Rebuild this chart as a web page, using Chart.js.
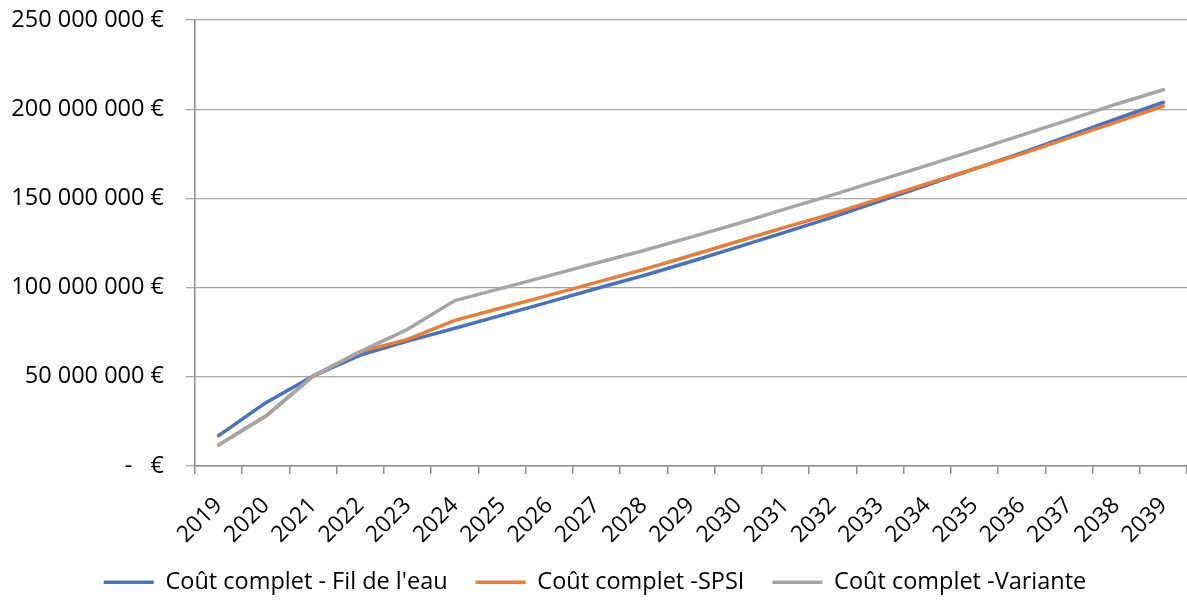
<!DOCTYPE html>
<html>
<head>
<meta charset="utf-8">
<script src="https://cdn.jsdelivr.net/npm/chart.js@4.4.0/dist/chart.umd.min.js"></script>
<style>
    html, body { margin: 0; padding: 0; background: #ffffff; }
    #wrap { width: 1187px; height: 602px; position: relative; }
</style>
</head>
<body>
<div id="wrap"><canvas id="cost-chart"></canvas></div>
<script>
// Coût complet par scénario, en euros
const years = ['2019', '2020', '2021', '2022', '2023', '2024', '2025', '2026', '2027', '2028', '2029',
    '2030', '2031', '2032', '2033', '2034', '2035', '2036', '2037', '2038', '2039'];

const filDeLeau = [17000000, 35500000, 50400000, 62200000, 70000000, 77200000, 84600000, 92000000, 99500000, 106800000, 114600000,
    122800000, 131100000, 139500000, 148500000, 157500000, 166500000, 175500000, 185000000, 194500000, 203900000];

const spsi = [11800000, 28000000, 50400000, 64100000, 71000000, 81600000, 88700000, 95800000, 102900000, 110200000, 118000000,
    126000000, 133900000, 141500000, 149900000, 158300000, 166600000, 175000000, 183900000, 192800000, 201800000];

const variante = [11800000, 28000000, 50400000, 64100000, 76600000, 92700000, 99700000, 106700000, 113800000, 120800000, 128300000,
    135900000, 144100000, 152000000, 160200000, 168500000, 176900000, 185500000, 194000000, 202800000, 210900000];

const seriesNames = ['Coût complet - Fil de l\'eau', 'Coût complet -SPSI', 'Coût complet -Variante'];
const seriesColors = ['#4472c4', '#ed7d31', '#a5a5a5'];

const yTickLabels = ['-   €', '50 000 000 €', '100 000 000 €', '150 000 000 €', '200 000 000 €', '250 000 000 €'];

const FONT = "'Open Sans', 'DejaVu Sans', sans-serif";
const AXIS_GREY = '#8c8c8c';
const GRID_GREY = '#a6a6a6';

function makeDataset(i, data) {
    return {
        label: seriesNames[i],
        data: data,
        borderColor: seriesColors[i],
        backgroundColor: seriesColors[i],
        borderWidth: 3.5,
        borderJoinStyle: 'round',
        borderCapStyle: 'round',
        pointRadius: 0,
        pointHoverRadius: 0,
        tension: 0,
        fill: false,
        order: 3 - i // grey on top, like the original
    };
}

const ctx = document.getElementById('cost-chart').getContext('2d');
new Chart(ctx, {
    type: 'line',
    data: {
        labels: years,
        datasets: [
            makeDataset(0, filDeLeau),
            makeDataset(1, spsi),
            makeDataset(2, variante)
        ]
    },
    options: {
        responsive: true,
        maintainAspectRatio: false,
        animation: false,
        layout: { padding: { top: 20, right: -3, bottom: -2, left: 0 } },
        plugins: {
            legend: {
                position: 'bottom',
                labels: {
                    color: '#000000',
                    font: { family: FONT, size: 23.5 },
                    usePointStyle: true,
                    pointStyle: 'line',
                    pointStyleWidth: 50,
                    padding: 28,
                    sort: function(a, b) { return a.datasetIndex - b.datasetIndex; }
                }
            },
            tooltip: { enabled: false }
        },
        scales: {
            x: {
                offset: true,
                afterFit: function(scale) {
                    scale.height = 76.5;
                    scale.paddingLeft = 0;
                    scale.paddingRight = 0;
                },
                grid: {
                    offset: true,
                    drawOnChartArea: false,
                    drawTicks: true,
                    tickLength: 8,
                    color: AXIS_GREY,
                    lineWidth: 1.5
                },
                border: { display: true, color: AXIS_GREY, width: 1.5 },
                ticks: {
                    color: '#000000',
                    font: { family: FONT, size: 23 },
                    maxRotation: 45,
                    minRotation: 45,
                    autoSkip: false,
                    padding: 18
                }
            },
            y: {
                min: 0,
                max: 250000000,
                afterFit: function(scale) {
                    scale.width = 195;
                    scale.paddingTop = 0;
                    scale.paddingBottom = 0;
                },
                grid: {
                    drawOnChartArea: true,
                    drawTicks: true,
                    tickLength: 9,
                    color: GRID_GREY,
                    lineWidth: 1.3
                },
                border: { display: true, color: AXIS_GREY, width: 1.5 },
                ticks: {
                    stepSize: 50000000,
                    color: '#000000',
                    font: { family: FONT, size: 23.5 },
                    padding: 22,
                    callback: function(v) { return yTickLabels[Math.round(v / 50000000)]; }
                }
            }
        }
    }
});
</script>
</body>
</html>
